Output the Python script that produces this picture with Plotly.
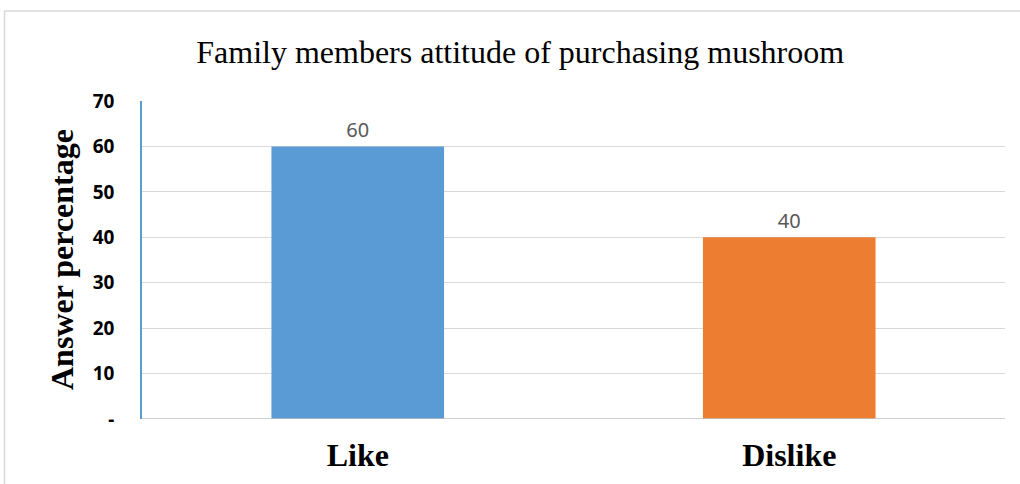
import plotly.graph_objects as go

# Survey answers
categories = ["Like", "Dislike"]
values = [60, 40]
bar_colors = ["#5B9BD5", "#ED7D31"]

tick_values = [0, 10, 20, 30, 40, 50, 60, 70]
tick_labels = ["-", "10", "20", "30", "40", "50", "60", "70"]

fig = go.Figure(
    go.Bar(
        x=categories,
        y=values,
        marker=dict(color=bar_colors, line=dict(width=0)),
        text=[str(v) for v in values],
        textposition="outside",
        textfont=dict(family="Noto Sans, Arial, sans-serif", size=20, color="#595959"),
        cliponaxis=False,
        width=0.4,
    )
)

# plot area occupies x 142..1005, y 101..419 px
L, R, T, B = 142, 15, 101, 65
W, H = 1020, 484
pw, ph = W - L - R, H - T - B


def px_x(px):
    return (px - L) / pw


def px_y(py):
    return (H - B - py) / ph


fig.update_layout(
    width=W,
    height=H,
    margin=dict(l=L, r=R, t=T, b=B),
    paper_bgcolor="white",
    plot_bgcolor="white",
    showlegend=False,
    title=dict(
        text="Family members attitude of purchasing mushroom",
        font=dict(family="Liberation Serif, Times New Roman, serif", size=32, color="black"),
        x=0.51,
        xanchor="center",
        y=1 - 52 / H,
        yanchor="middle",
    ),
    xaxis=dict(
        showgrid=False,
        showline=False,
        zeroline=False,
        ticks="",
        tickfont=dict(family="Liberation Serif, Times New Roman, serif", size=32, color="black", weight="bold"),
        ticklabelstandoff=14,
        range=[-0.5, 1.5],
    ),
    yaxis=dict(
        range=[0, 70],
        tickvals=tick_values,
        ticktext=tick_labels,
        tickfont=dict(family="Noto Sans, Arial, sans-serif", size=19, color="black", weight="bold"),
        ticklabelstandoff=22,
        showgrid=True,
        gridcolor="#D9D9D9",
        gridwidth=1,
        zeroline=False,
        showline=True,
        linecolor="#5B9BD5",
        linewidth=1.5,
        ticks="",
    ),
    shapes=[
        # baseline
        dict(type="line", xref="paper", yref="y", x0=0, x1=1, y0=0, y1=0,
             line=dict(color="#BFBFBF", width=1.5)),
        # chart frame
        dict(type="rect", xref="paper", yref="paper",
             x0=px_x(4.5), x1=px_x(1030), y0=px_y(11), y1=px_y(500),
             line=dict(color="#D9D9D9", width=1.5), layer="below"),
    ],
    annotations=[
        dict(
            text="<b>Answer percentage</b>",
            xref="paper", yref="paper",
            x=px_x(62), y=px_y(260),
            xanchor="center", yanchor="middle",
            textangle=-90,
            showarrow=False,
            font=dict(family="Liberation Serif, Times New Roman, serif", size=32, color="black"),
        )
    ],
)

fig.write_html("out.html")
